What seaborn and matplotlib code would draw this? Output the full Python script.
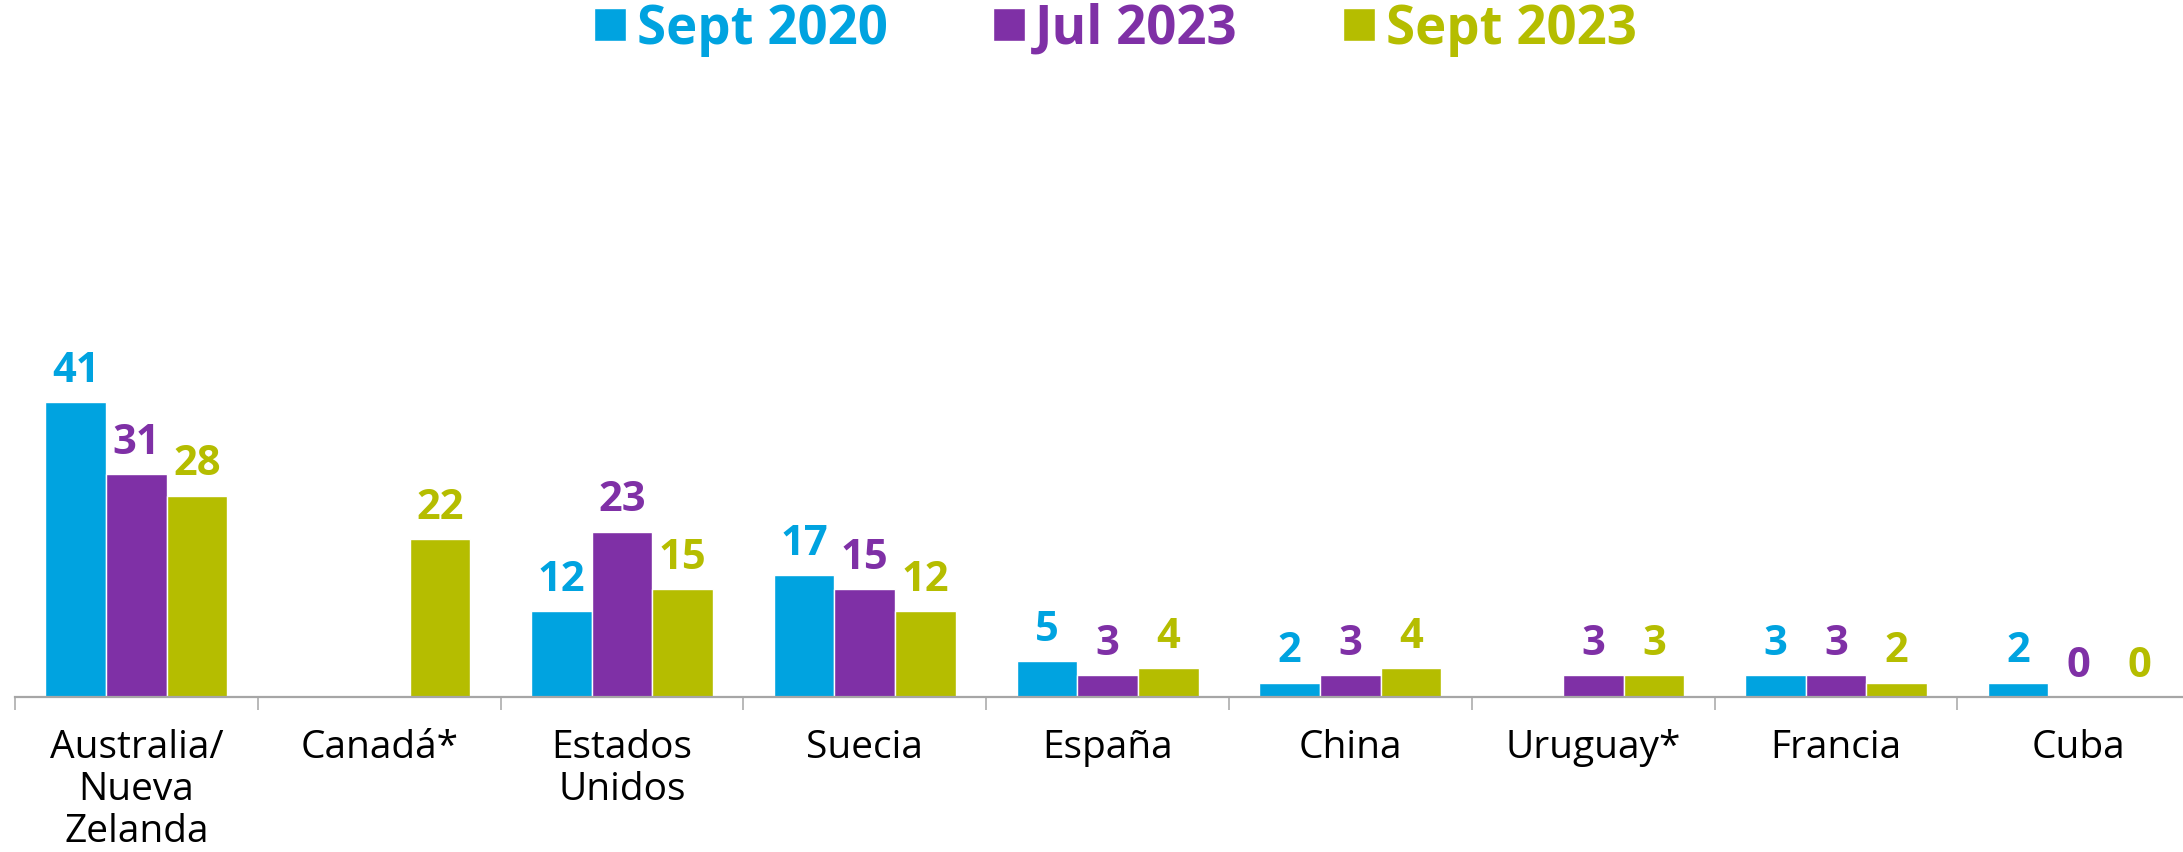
import matplotlib
matplotlib.use("Agg")

import matplotlib.pyplot as plt
import numpy as np
import pandas as pd
import seaborn as sns
from matplotlib.ticker import FixedLocator


# Chart data.
countries = [
    "Australia/\nNueva\nZelanda", "Canadá*", "Estados\nUnidos", "Suecia",
    "España", "China", "Uruguay*", "Francia", "Cuba",
]
periods = ["Sept 2020", "Jul 2023", "Sept 2023"]
sept_2020 = [41, None, 12, 17, 5, 2, None, 3, 2]
jul_2023 = [31, None, 23, 15, 3, 3, 3, 3, 0]
sept_2023 = [28, 22, 15, 12, 4, 4, 3, 2, 0]
colors = ["#00A3E0", "#7F30A6", "#B5BD00"]


def main() -> None:
    sns.set_theme(style="white")
    plt.rcParams["font.family"] = ["Open Sans", "DejaVu Sans"]

    # Long table; missing combinations are simply left out (no bar drawn).
    rows = []
    for period, vals in zip(periods, [sept_2020, jul_2023, sept_2023]):
        for country, v in zip(countries, vals):
            if v is not None:
                rows.append({"country": country, "period": period, "value": v})
    df = pd.DataFrame(rows)

    W, H = 2183, 853
    fig = plt.figure(figsize=(W / 100, H / 100), dpi=100)
    base_px, ymax = 698, 80
    unit_px = 7.195
    ax = fig.add_axes([15 / W, (H - base_px) / H, (W - 15) / W, ymax * unit_px / H])

    sns.barplot(
        data=df, x="country", y="value", hue="period",
        order=countries, hue_order=periods, palette=colors,
        width=0.75, gap=0, saturation=1, errorbar=None, ax=ax,
    )

    # Value labels above each bar.
    for cont, col in zip(ax.containers, colors):
        ax.bar_label(
            cont, labels=[f"{v:.0f}" for v in cont.datavalues],
            color=col, fontsize=30, fontweight="bold", padding=8,
        )

    handles, labels = ax.get_legend_handles_labels()
    ax.get_legend().remove()
    leg = fig.legend(
        handles, labels, loc="center", bbox_to_anchor=(0.511, 1 - 30 / H),
        ncol=3, frameon=False, handlelength=0.6, handleheight=0.6,
        handletextpad=0.2, columnspacing=2.0,
        prop={"size": 38, "weight": "bold"},
    )
    for txt, col in zip(leg.get_texts(), colors):
        txt.set_color(col)

    ax.set_xlim(-0.5, -0.5 + (W - 15) / 242.8)
    ax.set_ylim(0, ymax)
    ax.set_xlabel("")
    ax.set_ylabel("")
    ax.set_yticks([])

    for side in ["top", "right", "left"]:
        ax.spines[side].set_visible(False)
    ax.spines["bottom"].set_color("#A6A6A6")
    ax.spines["bottom"].set_linewidth(1.6)

    # Category labels at centres, separator ticks between categories.
    ax.xaxis.set_minor_locator(FixedLocator(np.arange(-0.5, len(countries), 1.0)))
    ax.tick_params(axis="x", which="major", length=0, pad=22,
                   labelsize=28, labelcolor="black")
    ax.tick_params(axis="x", which="minor", bottom=True, length=9,
                   width=1.1, color="#A6A6A6")
    for lab in ax.get_xticklabels():
        lab.set_linespacing(1.15)

    fig.savefig("out.png", dpi=100)
    plt.close(fig)


if __name__ == "__main__":
    main()
